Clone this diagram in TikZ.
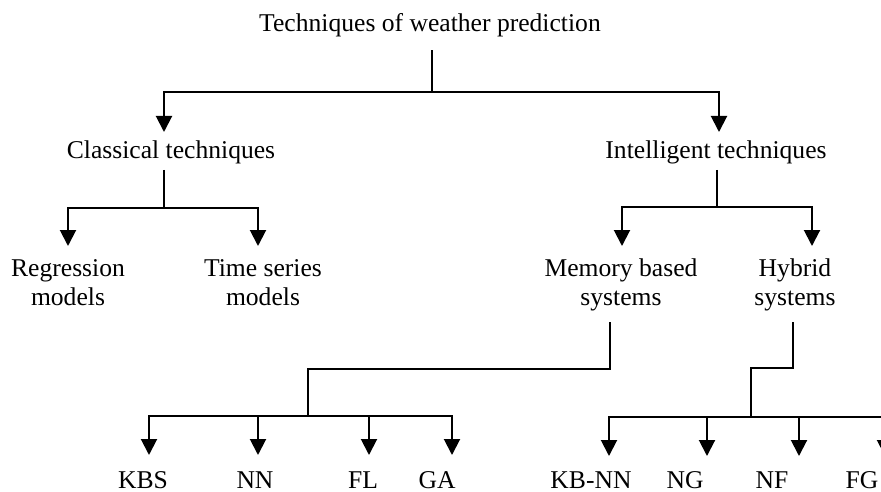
\documentclass[tikz,border=0pt]{standalone}
\usepackage{fontspec}
\setmainfont{Liberation Serif}
\usetikzlibrary{arrows.meta}
\tikzset{
    lbl/.style={inner sep=0pt, font=\fontsize{25.6}{29}\selectfont, align=center, anchor=base, text height=17pt, text depth=6pt},
    link/.style={line width=2pt},
    thinlink/.style={line width=1.2pt},
    arr/.style={-{Triangle[length=16pt,width=16pt]}, line width=2pt},
}

\begin{document}
\begin{tikzpicture}[x=1pt, y=-1pt]
\useasboundingbox (0,0) rectangle (881,492);
\clip (0,0) rectangle (881,492);

\node[lbl] (root) at (430,32) {Techniques of weather prediction};
\node[lbl] (cls) at (171,159) {Classical techniques};
\node[lbl] (intl) at (716,159) {Intelligent techniques};
\node[lbl] (reg) at (68,305) {Regression\\models};
\node[lbl] (ts) at (263,305) {Time series\\models};
\node[lbl] (mem) at (621,305) {Memory based\\systems};
\node[lbl] (hyb) at (795,305) {Hybrid\\systems};

\node[lbl] (kbs) at (143,488) {KBS};
\node[lbl] (nn) at (255,488) {NN};
\node[lbl] (fl) at (363,488) {FL};
\node[lbl] (ga) at (437,488) {GA};
\node[lbl] (kbnn) at (591,488) {KB-NN};
\node[lbl] (ng) at (685,488) {NG};
\node[lbl] (nf) at (772,488) {NF};
\node[lbl] (fg) at (862,488) {FG};

% junctions and arrow ends
\coordinate (j-root) at (432,92);
\coordinate (t-cls) at (164,132);
\coordinate (t-intl) at (719,132);
\coordinate (s-cls) at (164,170);
\coordinate (j-cls) at (164,208);
\coordinate (s-intl) at (717,170);
\coordinate (j-intl) at (717,207);
\coordinate (t-reg) at (68,246);
\coordinate (t-ts) at (258,246);
\coordinate (t-mem) at (622,246);
\coordinate (t-hyb) at (812,246);

\coordinate (s-mem) at (610,322);
\coordinate (b-mem) at (308,369);
\coordinate (j-mem) at (308,416);
\coordinate (t-kbs) at (149,455);
\coordinate (t-nn) at (258,455);
\coordinate (t-fl) at (369,455);
\coordinate (t-ga) at (452,455);

\coordinate (s-hyb) at (793,322);
\coordinate (b-hyb) at (751,368);
\coordinate (j-hyb) at (751,417);
\coordinate (t-kbnn) at (609,456);
\coordinate (t-ng) at (707,456);
\coordinate (t-nf) at (799,456);
\coordinate (t-fg) at (885,456);

\draw[thinlink, shorten <=12pt] (root.south -| j-root) -- (j-root);
\draw[arr] (j-root) -| (t-cls);
\draw[arr] (j-root) -| (t-intl);

\draw[link] (s-cls) -- (j-cls);
\draw[arr] (j-cls) -| (t-reg);
\draw[arr] (j-cls) -| (t-ts);
\draw[link] (s-intl) -- (j-intl);
\draw[arr] (j-intl) -| (t-mem);
\draw[arr] (j-intl) -| (t-hyb);

\draw[link] (s-mem) |- (b-mem) -- (j-mem);
\draw[arr] (j-mem) -| (t-kbs);
\draw[arr] (j-mem) -| (t-nn);
\draw[arr] (j-mem) -| (t-fl);
\draw[arr] (j-mem) -| (t-ga);

\draw[link] (s-hyb) |- (b-hyb) -- (j-hyb);
\draw[arr] (j-hyb) -| (t-kbnn);
\draw[arr] (j-hyb) -| (t-ng);
\draw[arr] (j-hyb) -| (t-nf);
\draw[arr] (j-hyb) -| (t-fg);
\end{tikzpicture}
\end{document}
